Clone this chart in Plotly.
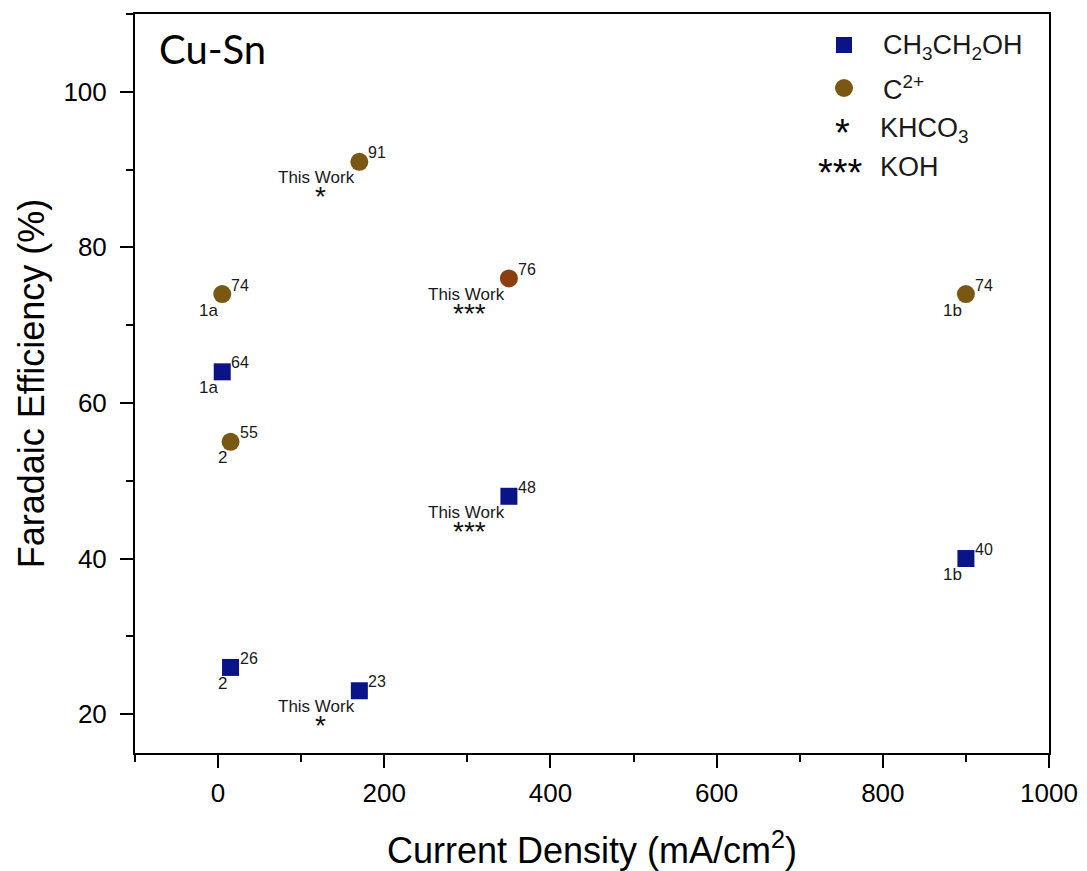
import plotly.graph_objects as go

# ---------------- data ----------------
current_density = [5, 15, 170, 350, 900]          # mA/cm2
ethanol_fe = [64, 26, 23, 48, 40]                 # CH3CH2OH FE (%)
c2_fe = [74, 55, 91, 76, 74]                      # C2+ FE (%)
source_labels = ["1a", "2", "This Work", "This Work", "1b"]
electrolyte_marks = ["", "", "*", "***", ""]      # * KHCO3, *** KOH

x_ticks = [0, 200, 400, 600, 800, 1000]
y_ticks = [20, 40, 60, 80, 100]

# ---------------- style ----------------
FONT = "Liberation Sans, Arial, sans-serif"
NAVY = "#0B1487"
BROWN = "#7B5714"
RUST = "#8B3E10"

c2_colors = [RUST if m == "***" else BROWN for m in electrolyte_marks]

fig = go.Figure()

fig.add_trace(go.Scatter(
    x=current_density, y=ethanol_fe, mode="markers",
    marker=dict(symbol="square", size=17, color=NAVY, line=dict(width=0)),
    name="CH3CH2OH", showlegend=False, cliponaxis=False))

fig.add_trace(go.Scatter(
    x=current_density, y=c2_fe, mode="markers",
    marker=dict(symbol="circle", size=18, color=c2_colors, line=dict(width=0)),
    name="C2+", showlegend=False, cliponaxis=False))

annotations = []
for series in (ethanol_fe, c2_fe):
    for x, y, src, mark in zip(current_density, series, source_labels, electrolyte_marks):
        # value label (top right)
        annotations.append(dict(
            x=x, y=y, xref="x", yref="y", text=str(y), showarrow=False,
            xanchor="left", yanchor="middle", xshift=7, yshift=9,
            font=dict(family=FONT, size=16, color="#1a1a1a")))
        # source label (bottom left)
        annotations.append(dict(
            x=x, y=y, xref="x", yref="y", text=src, showarrow=False,
            xanchor="right", yanchor="middle", xshift=-2, yshift=-16,
            font=dict(family=FONT, size=17, color="#1a1a1a")))
        if mark:
            annotations.append(dict(
                x=x, y=y, xref="x", yref="y", text=mark, showarrow=False,
                xanchor="center", yanchor="middle", xshift=-39, yshift=-35,
                font=dict(family=FONT, size=28, color="#111111")))

# panel label
annotations.append(dict(
    x=0.024, y=0.953, xref="paper", yref="paper", text="Cu-Sn", showarrow=False,
    xanchor="left", yanchor="middle",
    font=dict(family="Lato, Carlito, Calibri, sans-serif", size=40, color="black")))

# manual legend (layout elements)
LX_SYM = (844 - 135) / 914
LX_TXT = (880 - 135) / 914
def py(p):
    return (753 - p) / 739

legend_font = dict(family=FONT, size=27, color="#1a1a1a")
annotations += [
    dict(x=LX_TXT + 0.001, y=py(47), xref="paper", yref="paper",
         text="CH<sub>3</sub>CH<sub>2</sub>OH", showarrow=False,
         xanchor="left", yanchor="middle", font=legend_font),
    dict(x=LX_TXT + 0.001, y=py(88), xref="paper", yref="paper",
         text="C<sup>2+</sup>", showarrow=False,
         xanchor="left", yanchor="middle", font=legend_font),
    dict(x=LX_TXT - 0.002, y=py(130), xref="paper", yref="paper",
         text="KHCO<sub>3</sub>", showarrow=False,
         xanchor="left", yanchor="middle", font=legend_font),
    dict(x=LX_TXT - 0.002, y=py(167), xref="paper", yref="paper",
         text="KOH", showarrow=False,
         xanchor="left", yanchor="middle", font=legend_font),
    dict(x=LX_SYM - 0.002, y=py(127), xref="paper", yref="paper", text="*",
         showarrow=False, xanchor="center", yanchor="middle", yshift=-6,
         font=dict(family=FONT, size=38, color="black")),
    dict(x=LX_SYM - 0.004, y=py(167), xref="paper", yref="paper", text="***",
         showarrow=False, xanchor="center", yanchor="middle", yshift=-6,
         font=dict(family=FONT, size=38, color="black")),
]

shapes = [
    dict(type="rect", xref="paper", yref="paper", xsizemode="pixel", ysizemode="pixel",
         xanchor=LX_SYM, yanchor=py(45), x0=-8, x1=8, y0=-8, y1=8,
         fillcolor=NAVY, line=dict(width=0)),
    dict(type="circle", xref="paper", yref="paper", xsizemode="pixel", ysizemode="pixel",
         xanchor=LX_SYM, yanchor=py(88), x0=-9, x1=9, y0=-9, y1=9,
         fillcolor=BROWN, line=dict(width=0)),
]

axis_common = dict(
    showgrid=False, zeroline=False, showline=True, linecolor="black", linewidth=2,
    mirror=True, ticks="outside", ticklen=13, tickwidth=2, tickcolor="black",
    tickfont=dict(family=FONT, size=26, color="black"), automargin=False,
)

fig.update_layout(
    width=1087, height=871,
    margin=dict(l=135, r=38, t=14, b=118, autoexpand=False),
    plot_bgcolor="white", paper_bgcolor="white",
    showlegend=False,
    xaxis=dict(
        range=[-100, 1000], tickvals=x_ticks, ticklabelstandoff=3,
        minor=dict(dtick=100, tick0=0, ticks="outside", ticklen=7, tickwidth=2, tickcolor="black"),
        title=dict(text="Current Density (mA/cm<sup>2</sup>)", standoff=33,
                   font=dict(family=FONT, size=36, color="black")),
        **axis_common),
    yaxis=dict(
        range=[15, 110], tickvals=y_ticks, ticklabelstandoff=8,
        minor=dict(dtick=10, tick0=0, ticks="outside", ticklen=7, tickwidth=2, tickcolor="black"),
        title=dict(text="Faradaic Efficiency (%)", standoff=8,
                   font=dict(family=FONT, size=36, color="black")),
        **axis_common),
    annotations=annotations,
    shapes=shapes,
)

fig.write_html("out.html")
